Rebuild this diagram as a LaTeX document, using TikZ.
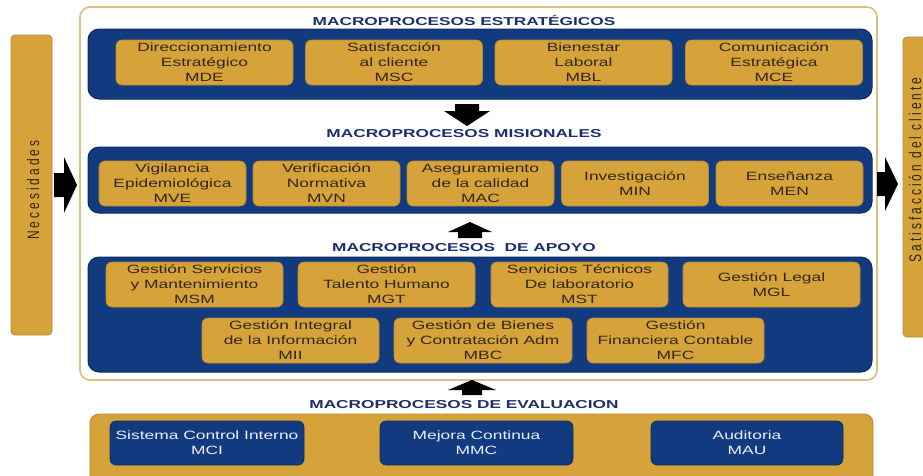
\documentclass[tikz,border=0pt]{standalone}
\usepackage{fontspec}
\usepackage{graphicx}
\setmainfont[FakeStretch=1.45]{Liberation Sans}
\newfontfamily\titlefont[FakeStretch=1.5]{Liberation Sans}
\newfontfamily\barfont[LetterSpace=25]{Liberation Sans}
\definecolor{gold}{HTML}{D6A23A}
\definecolor{goldD}{HTML}{B88A2E}
\definecolor{goldL}{HTML}{DCC07E}
\definecolor{navy}{HTML}{113B7E}
\definecolor{navyD}{HTML}{0A2C62}
\definecolor{txt}{HTML}{33271A}
\definecolor{ttl}{HTML}{1C2F6B}
\tikzset{
  gbox/.style={draw=goldD, line width=0.6pt, fill=gold, rounded corners=6pt, align=center, text=txt,
    font=\fontsize{12}{15}\selectfont, inner sep=0pt, minimum height=45pt},
  bbox/.style={draw=navyD, line width=0.6pt, fill=navy, rounded corners=6pt, align=center, text=white!93!blue,
    font=\fontsize{12}{15}\selectfont, inner sep=0pt, minimum height=44pt},
  band/.style={draw=navyD, line width=1pt, fill=navy, rounded corners=11pt, inner sep=0pt},
  gband/.style={draw=goldD, line width=0.8pt, fill=gold, rounded corners=9pt, inner sep=0pt},
  ttlstyle/.style={text=ttl, font=\titlefont\bfseries\fontsize{11.5}{13}\selectfont, inner sep=0pt},
  blockarrow/.style={fill=black},
  barstyle/.style={draw=goldD, line width=0.8pt, fill=gold, rounded corners=4pt, inner sep=0pt},
  bartext/.style={rotate=90, text=txt, inner sep=0pt},
}
\begin{document}
\begin{tikzpicture}[x=1pt,y=-1pt]
\useasboundingbox (0,0) rectangle (923,475);
\fill[white] (0,0) rectangle (923,475);

% side bars
\node[barstyle, minimum width=41pt, minimum height=300pt] (nec) at (31.5,185) {};
\node[bartext] (necT) at (33,190) {\scalebox{1}[1.4]{\barfont\fontsize{12}{14}\selectfont Necesidades}};
\node[barstyle, minimum width=41pt, minimum height=300pt] (sat) at (923.5,187) {};
\node[bartext] (satT) at (915,170) {\scalebox{1}[1.4]{\barfont\fontsize{12}{14}\selectfont Satisfacción del cliente}};

% outer frame
\node[draw=goldL, line width=1.6pt, fill=white, rounded corners=10pt, minimum width=797pt, minimum height=373pt, inner sep=0pt] (frame) at (478.5,193.5) {};

% titles
\node[ttlstyle] (t1) at (464,20) {MACROPROCESOS ESTRATÉGICOS};
\node[ttlstyle] (t2) at (464,134) {MACROPROCESOS MISIONALES};
\node[ttlstyle] (t3) at (464,248) {MACROPROCESOS \ DE APOYO};
\node[ttlstyle] (t4) at (464,405) {MACROPROCESOS DE EVALUACION};

% bands
\node[band, minimum width=784pt, minimum height=70pt] (strat) at (480,64) {};
\node[band, minimum width=784pt, minimum height=66pt] (mis) at (480,180) {};
\node[band, minimum width=784pt, minimum height=115pt] (apo) at (480,314.5) {};
\node[gband, minimum width=783pt, minimum height=80pt] (evb) at (481.5,454) {};

% strategic
\node[gbox, minimum width=177pt] (mde) at (204.5,62.5) {Direccionamiento\\Estratégico\\MDE};
\node[gbox, minimum width=177pt] (msc) at (394,62.5) {Satisfacción\\al cliente\\MSC};
\node[gbox, minimum width=177pt] (mbl) at (583.5,62.5) {Bienestar\\Laboral\\MBL};
\node[gbox, minimum width=177pt] (mce) at (774,62.5) {Comunicación\\Estratégica\\MCE};

% misional
\node[gbox, minimum width=147pt] (mve) at (172.5,183.5) {Vigilancia\\Epidemiológica\\MVE};
\node[gbox, minimum width=147pt] (mvn) at (326.5,183.5) {Verificación\\Normativa\\MVN};
\node[gbox, minimum width=147pt] (mac) at (480.5,183.5) {Aseguramiento\\de la calidad\\MAC};
\node[gbox, minimum width=147pt] (min) at (635,183.5) {Investigación\\MIN};
\node[gbox, minimum width=147pt] (men) at (789.5,183.5) {Enseñanza\\MEN};

% apoyo
\node[gbox, minimum width=177pt] (msm) at (194.5,284.5) {Gestión Servicios\\y Mantenimiento\\MSM};
\node[gbox, minimum width=177pt] (mgt) at (386.5,284.5) {Gestión\\Talento Humano\\MGT};
\node[gbox, minimum width=177pt] (mst) at (579.5,284.5) {Servicios Técnicos\\De laboratorio\\MST};
\node[gbox, minimum width=177pt] (mgl) at (771.5,284.5) {Gestión Legal\\MGL};
\node[gbox, minimum width=177pt] (mii) at (290.5,340.5) {Gestión Integral\\de la Información\\MII};
\node[gbox, minimum width=178pt] (mbc) at (483,340.5) {Gestión de Bienes\\y Contratación Adm\\MBC};
\node[gbox, minimum width=177pt] (mfc) at (675.5,340.5) {Gestión\\Financiera Contable\\MFC};

% evaluation
\node[bbox, minimum width=194pt] (mci) at (207,443) {Sistema Control Interno\\MCI};
\node[bbox, minimum width=193pt] (mmc) at (476.5,443) {Mejora Continua\\MMC};
\node[bbox, minimum width=192pt] (mau) at (747,443) {Auditoria\\MAU};

% block arrows
\coordinate (a1) at (467,104);
\fill[blockarrow] (a1) ++(-12,0) -- ++(24,0) -- ++(0,7) -- ++(11,0) -- ++(-23,15) -- ++(-23,-15) -- ++(11,0) -- cycle;
\coordinate (a2) at (470,238);
\fill[blockarrow] (a2) ++(-12,0) -- ++(24,0) -- ++(0,-6) -- ++(10,0) -- ++(-22,-10) -- ++(-22,10) -- ++(10,0) -- cycle;
\coordinate (a3) at (472,395);
\fill[blockarrow] (a3) ++(-10,0) -- ++(20,0) -- ++(0,-5) -- ++(14,0) -- ++(-24,-10) -- ++(-24,10) -- ++(14,0) -- cycle;
\coordinate (a4) at (54,185);
\fill[blockarrow] (a4) ++(0,-12) -- ++(10,0) -- ++(0,-16) -- ++(13,28) -- ++(-13,28) -- ++(0,-16) -- ++(-10,0) -- cycle;
\coordinate (a5) at (877,184);
\fill[blockarrow] (a5) ++(0,-12) -- ++(8,0) -- ++(0,-15) -- ++(13,27) -- ++(-13,27) -- ++(0,-15) -- ++(-8,0) -- cycle;
\end{tikzpicture}
\end{document}
